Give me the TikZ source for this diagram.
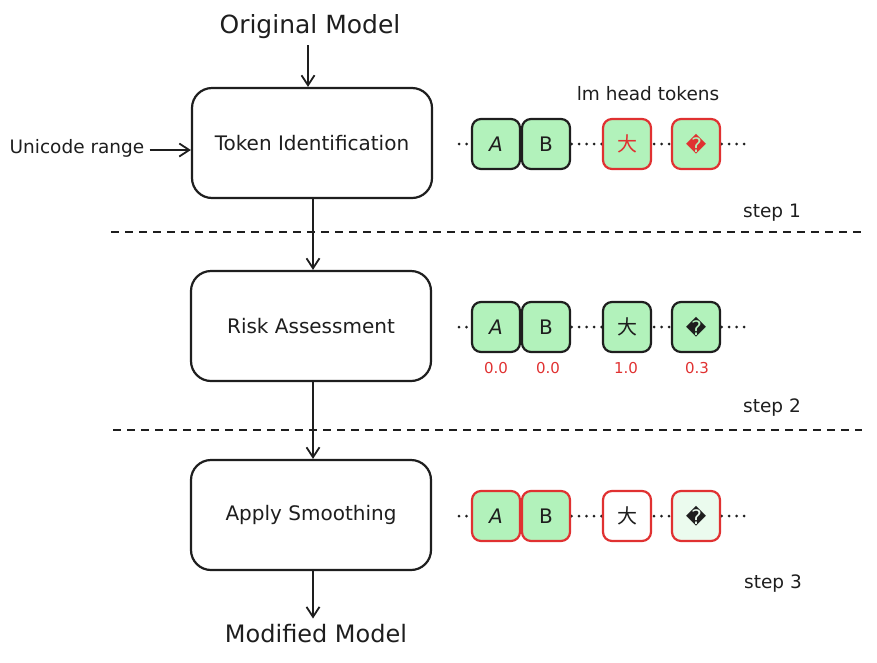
\documentclass[tikz,border=0pt]{standalone}
\usepackage{fontspec}
\setmainfont{DejaVu Sans}
\newfontfamily\cjk{Noto Sans CJK SC}
\usetikzlibrary{arrows.meta}
\definecolor{tgreen}{HTML}{B2F2BB}
\definecolor{tlight}{HTML}{EBFBEE}
\definecolor{tred}{HTML}{E03131}
\definecolor{ink}{HTML}{1E1E1E}
\tikzset{
  bigbox/.style={draw=ink, line width=2.2pt, rounded corners=20pt, minimum width=240pt, minimum height=110pt, fill=white, font=\fontsize{20}{24}\selectfont, text=ink},
  tok/.style={line width=2.2pt, rounded corners=9pt, minimum width=48pt, minimum height=50pt, inner sep=0pt, font=\fontsize{20}{22}\selectfont, text=ink},
  tokok/.style={tok, draw=ink, fill=tgreen},
  tokbad/.style={tok, draw=tred, fill=tgreen},
  arr/.style={draw=ink, line width=1.8pt, -{Straight Barb[length=10pt,width=13pt,line width=1.8pt]}},
  sep/.style={draw=ink, line width=2pt, dash pattern=on 8pt off 6pt},
  dots/.style={draw=ink, line width=3pt, line cap=round, dash pattern=on 0pt off 7.5pt},
  lbl/.style={text=ink, inner sep=0pt},
  val/.style={text=tred, inner sep=0pt, font=\fontsize{15}{17}\selectfont},
}
\begin{document}
\begin{tikzpicture}[x=1pt,y=-1pt]
\useasboundingbox (0,0) rectangle (877,662);
% titles
\node[lbl, font=\fontsize{25}{30}\selectfont] (orig) at (310,27) {Original Model};
\node[lbl, font=\fontsize{24}{28}\selectfont] (mod) at (316,634) {Modified Model};
\node[lbl, font=\fontsize{18.5}{20}\selectfont] (uni) at (77,148) {Unicode range};
\node[lbl, font=\fontsize{18.5}{20}\selectfont] (lmh) at (648,94) {lm head tokens};
\node[lbl, font=\fontsize{18.5}{20}\selectfont] (s1) at (772,213) {step 1};
\node[lbl, font=\fontsize{18.5}{20}\selectfont] (s2) at (772,408) {step 2};
\node[lbl, font=\fontsize{18.5}{20}\selectfont] (s3) at (773,584) {step 3};
% separators
\coordinate (d1l) at (111,232); \coordinate (d1r) at (862,232);
\coordinate (d2l) at (113,430); \coordinate (d2r) at (862,430);
\draw[sep] (d1l) -- (d1r);
\draw[sep] (d2l) -- (d2r);
% main boxes
\node[bigbox] (b1) at (312,143) {Token Identification};
\node[bigbox] (b2) at (311,326) {Risk Assessment};
\node[bigbox] (b3) at (311,515) {Apply Smoothing};
% arrows
\draw[arr] ([yshift=-6pt]orig.south -| 308,0) -- (b1.north -| 308,0);
\draw[arr] ([xshift=5pt,yshift=-2pt]uni.east) -- (b1.west |- 0,150);
\draw[arr] (b1.south -| 313,0) -- (b2.north -| 313,0);
\draw[arr] (b2.south -| 313,0) -- (b3.north -| 313,0);
\draw[arr] (b3.south -| 313,0) -- ([yshift=6pt]mod.north -| 313,0);
% row 1
\coordinate (r1l) at (459,144); \coordinate (r1r) at (748,144);
\draw[dots] (r1l) -- (r1r);
\node[tokok] (a1) at (496,144) {\itshape A};
\node[tokok] (bb1) at (546,144) {B};
\node[tokbad, text=tred] (c1) at (627,144) {\cjk 大};
\node[tokbad, text=tred] (q1) at (696,144) {\char"FFFD};
% row 2
\coordinate (r2l) at (459,327); \coordinate (r2r) at (748,327);
\draw[dots] (r2l) -- (r2r);
\node[tokok] (a2) at (496,327) {\itshape A};
\node[tokok] (bb2) at (546,327) {B};
\node[tokok] (c2) at (627,327) {\cjk 大};
\node[tokok] (q2) at (696,327) {\char"FFFD};
\node[val] (va) at (496,368) {0.0};
\node[val] (vb) at (548,368) {0.0};
\node[val] (vc) at (626,368) {1.0};
\node[val] (vq) at (697,368) {0.3};
% row 3
\coordinate (r3l) at (459,516); \coordinate (r3r) at (748,516);
\draw[dots] (r3l) -- (r3r);
\node[tokbad] (a3) at (496,516) {\itshape A};
\node[tokbad] (bb3) at (546,516) {B};
\node[tok, draw=tred, fill=white] (c3) at (627,516) {\cjk 大};
\node[tok, draw=tred, fill=tlight] (q3) at (696,516) {\char"FFFD};
\end{tikzpicture}
\end{document}
